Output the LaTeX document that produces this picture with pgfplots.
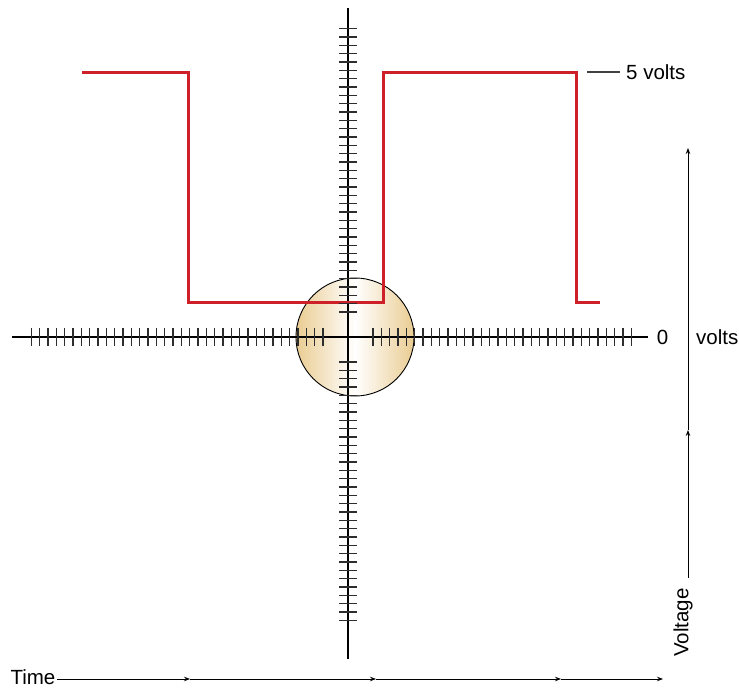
\documentclass[border=0pt]{standalone}
\usepackage{pgfplots}
\pgfplotsset{compat=1.18}
\usepackage{fontspec}
\setmainfont{Liberation Sans}
\usetikzlibrary{arrows.meta}
\definecolor{sigred}{RGB}{205,32,40}
\definecolor{tan}{RGB}{234,204,146}
\definecolor{tickgray}{RGB}{45,45,45}
\newcommand{\lbl}{\fontsize{20.5}{24}\selectfont}
\begin{document}
\begin{tikzpicture}
\begin{axis}[
  scale only axis, width=739pt, height=688pt,
  xmin=-41.76, xmax=46.92, ymin=-42.12, ymax=40.44,
  hide axis, clip=false,
]
% scope circle
\draw[draw=black, line width=0.9pt, left color=tan, right color=tan, middle color=white]
  (axis cs:0.84,0) circle[radius=59pt];
% axis lines
\addplot[black, line width=1.4pt] coordinates {(-40.32,0) (36,0)};
\addplot[black, line width=1.4pt] coordinates {(0,39.48) (0,-38.64)};
% horizontal graticule ticks
\addplot[only marks, mark=|, mark size=9pt, mark options={line width=1.4pt, draw=tickgray}] coordinates {
(-38,0) (-37,0) (-36,0) (-35,0) (-34,0) (-33,0) (-32,0) (-31,0) (-30,0) (-29,0)
(-28,0) (-27,0) (-26,0) (-25,0) (-24,0) (-23,0) (-22,0) (-21,0) (-20,0) (-19,0)
(-18,0) (-17,0) (-16,0) (-15,0) (-14,0) (-13,0) (-12,0) (-11,0) (-10,0) (-9,0)
(-8,0) (-7,0) (-6,0) (-5,0) (-4,0) (-3,0)
(3,0) (4,0) (5,0) (6,0) (7,0) (8,0) (9,0) (10,0) (11,0) (12,0) (13,0) (14,0)
(15,0) (16,0) (17,0) (18,0) (19,0) (20,0) (21,0) (22,0) (23,0) (24,0) (25,0)
(26,0) (27,0) (28,0) (29,0) (30,0) (31,0) (32,0) (33,0) (34,0)};
% vertical graticule ticks
\addplot[only marks, mark=-, mark size=9pt, mark options={line width=1.4pt, draw=tickgray}] coordinates {
(0,-34) (0,-33) (0,-32) (0,-31) (0,-30) (0,-29) (0,-28) (0,-27) (0,-26) (0,-25)
(0,-24) (0,-23) (0,-22) (0,-21) (0,-20) (0,-19) (0,-18) (0,-17) (0,-16) (0,-15)
(0,-14) (0,-13) (0,-12) (0,-11) (0,-10) (0,-9) (0,-8) (0,-7) (0,-6) (0,-5) (0,-4) (0,-3)
(0,3) (0,4) (0,5) (0,6) (0,7) (0,8) (0,9) (0,10) (0,11) (0,12) (0,13) (0,14)
(0,15) (0,16) (0,17) (0,18) (0,19) (0,20) (0,21) (0,22) (0,23) (0,24) (0,25)
(0,26) (0,27) (0,28) (0,29) (0,30) (0,31) (0,32) (0,33) (0,34) (0,35) (0,36) (0,37)};
% square-wave signal
\addplot[sigred, line width=3pt, line join=miter] coordinates {
(-31.92,31.68) (-19.2,31.68) (-19.2,4.08) (4.2,4.08) (4.2,31.75) (27.36,31.75) (27.36,4.08) (30.24,4.08)};
% 5 volts marker
\addplot[black!75, line width=1.3pt] coordinates {(28.68,31.8) (32.64,31.8)};
\node[anchor=west, inner sep=0pt, font=\lbl] at (axis cs:33.36,31.8) {5 volts};
\node[inner sep=0pt, font=\lbl] at (axis cs:37.74,0) {0};
\node[anchor=west, inner sep=0pt, font=\lbl] at (axis cs:41.76,0) {volts};
% Voltage arrow
\addplot[black, line width=0.9pt, -{Stealth[length=6pt,width=4.5pt]}] coordinates {(40.8,-28.92) (40.8,-11.16)};
\addplot[black, line width=0.9pt, -{Stealth[length=6pt,width=4.5pt]}] coordinates {(40.8,-11.16) (40.8,22.68)};
\node[rotate=90, anchor=west, inner sep=0pt, font=\lbl] at (axis cs:40.2,-38.4) {Voltage};
% Time arrow
\addplot[black, line width=0.9pt, -{Stealth[length=6pt,width=4.5pt]}] coordinates {(-34.92,-41.04) (-18.96,-41.04)};
\addplot[black, line width=0.9pt, -{Stealth[length=6pt,width=4.5pt]}] coordinates {(-18.96,-41.04) (3.36,-41.04)};
\addplot[black, line width=0.9pt, -{Stealth[length=6pt,width=4.5pt]}] coordinates {(3.36,-41.04) (25.56,-41.04)};
\addplot[black, line width=0.9pt, -{Stealth[length=6pt,width=4.5pt]}] coordinates {(25.56,-41.04) (37.8,-41.04)};
\node[anchor=east, inner sep=0pt, font=\lbl] at (axis cs:-35.1,-40.85) {Time};
\end{axis}
\pgfresetboundingbox
\useasboundingbox (0,0) rectangle (739pt,688pt);
\end{tikzpicture}
\end{document}
